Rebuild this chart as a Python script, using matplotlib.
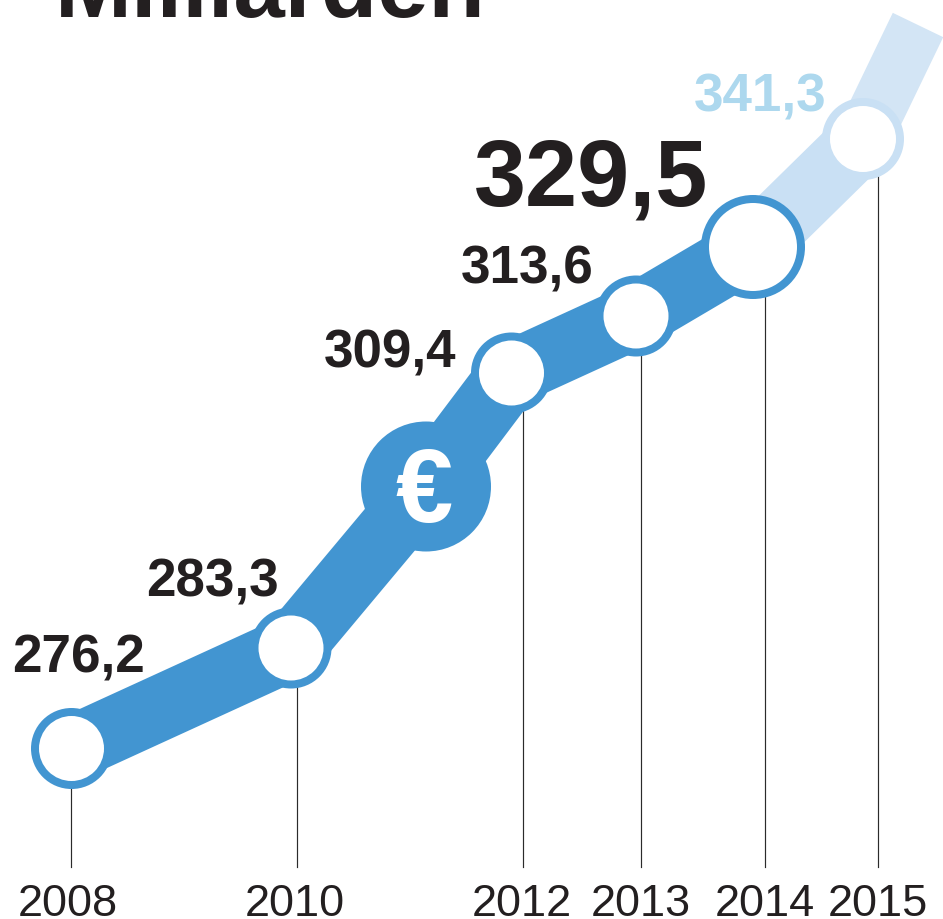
"""plot.py - Milliarden: band line with ring markers, 2008 to 2015."""

import matplotlib
matplotlib.use("Agg")
import matplotlib.pyplot as plt
from matplotlib.patches import Circle

# ── data ──────────────────────────────────────────────────────────────────────
# the chart is not to scale, so heights are read off the picture (axes in px)
YEARS    = ["2008", "2010", "2012", "2013", "2014", "2015"]
VALUES   = [276.2, 283.3, 309.4, 313.6, 329.5, 341.3]
TICK_X   = [71, 297, 523, 641, 765, 878]
TICK_TOP = [780, 680, 410, 350, 295, 175]
YEAR_X   = [67.5, 295, 522, 641, 765, 877.5]
POINT_X  = [71.5, 291, 511.5, 636, 753, 863]
POINT_Y  = [749.5, 649, 374, 317, 248, 140]
EURO_X   = 426
EURO_Y   = 487.5
ARROW_X  = 918
ARROW_Y  = 26

LABEL_X  = [78.5, 212, 390, 527, 591.5, 760]
LABEL_Y  = [673, 597, 368, 284, 205, 111]
TITLE    = "Milliarden"

# ── config ────────────────────────────────────────────────────────────────────
BLUE     = "#4295D1"
LIGHT    = "#C9E0F4"
LIGHTER  = "#D3E5F5"
LABEL_LT = "#ADD8EE"
DARK     = "#231F20"
FONT     = "Liberation Sans"
PX       = 72 / 100        # px → pt
BAND_LW  = 65 * PX
RADIUS   = [40.5, 40.5, 40.5, 40.5, 52, 41]
RING     = 8

fig = plt.figure(figsize=(9.43, 9.20), dpi=100)
ax = fig.add_axes([0, 0, 1, 1])
ax.set_xlim(0, 943)
ax.set_ylim(920, 0)
ax.axis("off")

# drop lines sit under the band
for x, top in zip(TICK_X, TICK_TOP):
    ax.plot([x, x], [top, 868], color="#2b2b2b", lw=0.85, zorder=1)

# band: solid part, forecast part, run-out
ax.plot([POINT_X[4], POINT_X[5]], [POINT_Y[4], POINT_Y[5]], color=LIGHT,
        lw=BAND_LW, solid_capstyle="butt", zorder=2)
ax.plot([POINT_X[5], ARROW_X], [POINT_Y[5], ARROW_Y], color=LIGHTER,
        lw=56 * PX, solid_capstyle="butt", zorder=2)
band_x = POINT_X[:2] + [EURO_X] + POINT_X[2:5]
band_y = POINT_Y[:2] + [EURO_Y] + POINT_Y[2:5]
ax.plot(band_x, band_y, color=BLUE, lw=BAND_LW, solid_capstyle="butt",
        solid_joinstyle="round", zorder=3)

# € disc
ax.add_patch(Circle((EURO_X, EURO_Y), 65, fc=BLUE, ec="none", zorder=4))
ax.text(424, 522, "€", color="white", fontsize=74, fontweight="bold",
        family=FONT, ha="center", va="baseline", zorder=5)

# ring markers
for i, (x, y, r) in enumerate(zip(POINT_X, POINT_Y, RADIUS)):
    ring = LIGHT if i == 5 else BLUE
    ax.add_patch(Circle((x, y), r, fc=ring, ec="none", zorder=4))
    ax.add_patch(Circle((x, y), r - RING, fc="white", ec="none", zorder=5))

# value labels
for i, (v, x, y) in enumerate(zip(VALUES, LABEL_X, LABEL_Y)):
    size = 67.5 if i == 4 else 38.2
    col = LABEL_LT if i == 5 else DARK
    ax.text(x, y, f"{v:.1f}".replace(".", ","), color=col, fontsize=size,
            fontweight="bold", family=FONT, ha="center", va="baseline", zorder=6)

# year labels
for yr, x in zip(YEARS, YEAR_X):
    ax.text(x, 916, yr, color=DARK, fontsize=32.5, family=FONT,
            ha="center", va="baseline")

# title, cut by the top edge like the source crop
ax.text(55, 17, TITLE, color=DARK, fontsize=66.5, fontweight="bold", family=FONT,
        ha="left", va="baseline")

fig.savefig("out.png", dpi=100)
plt.close(fig)
